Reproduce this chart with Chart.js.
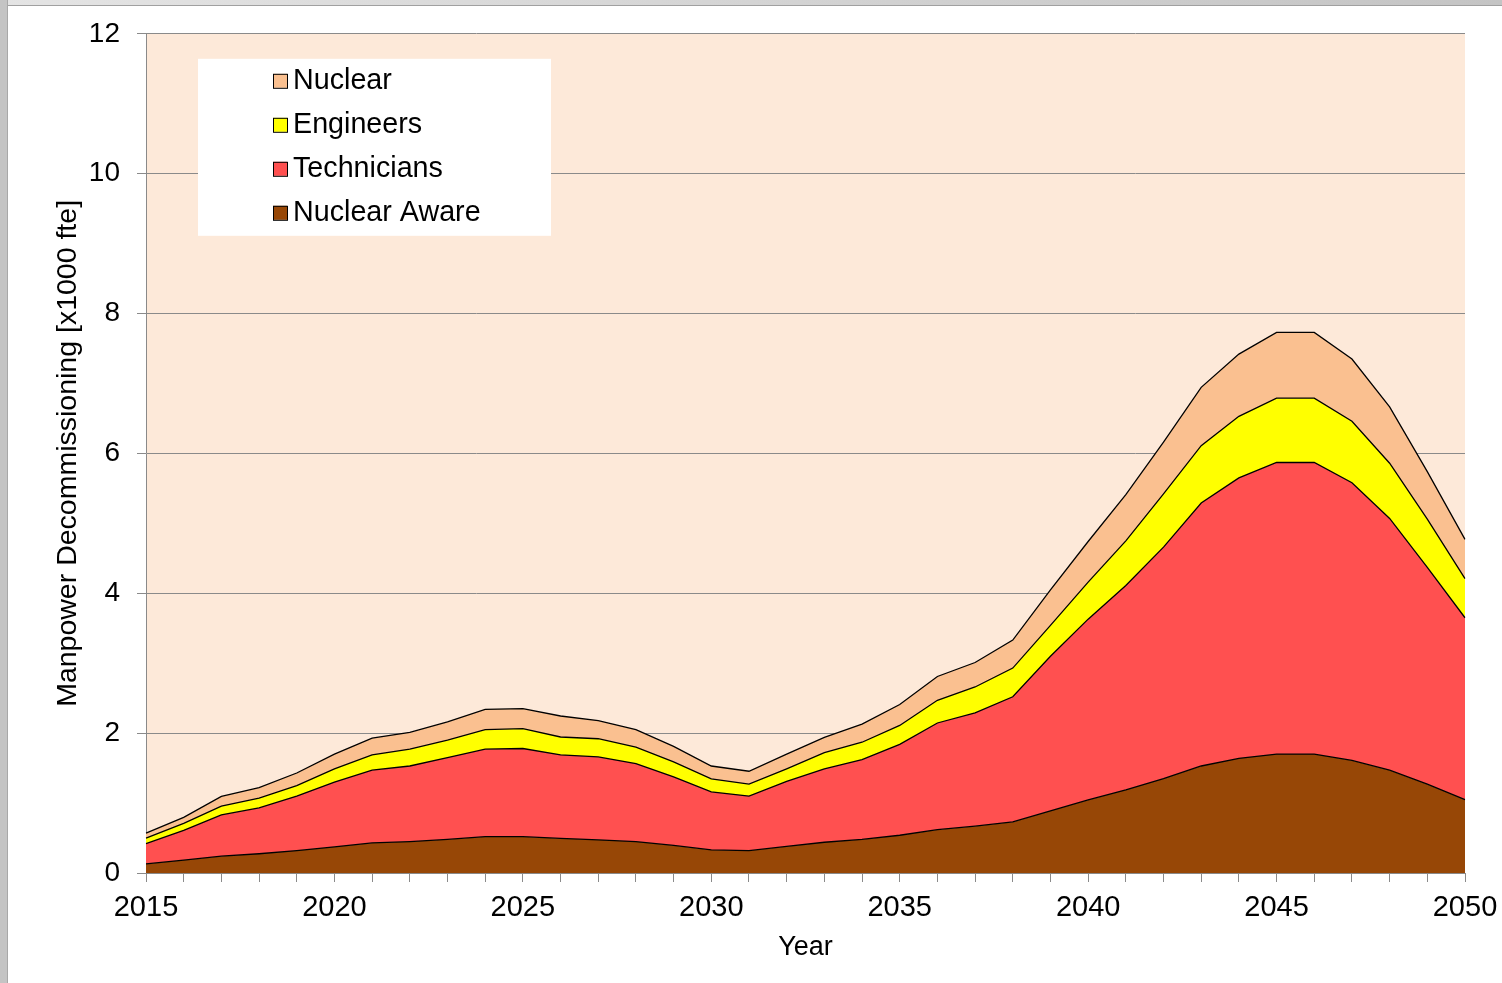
<!DOCTYPE html>
<html>
<head>
<meta charset="utf-8">
<script src="https://cdn.jsdelivr.net/npm/chart.js@4.4.0/dist/chart.umd.min.js"></script>
<style>
  html, body { margin: 0; padding: 0; background: #fff; }
  #wrap { position: relative; width: 1502px; height: 983px; overflow: hidden; }
  #frameTop { position: absolute; left: 0; top: 0; width: 1502px; height: 5px; background: linear-gradient(to right, #e4e4e4, #c4c4c4); border-bottom: 1px solid #a0a0a0; }
  #frameLeft { position: absolute; left: 0; top: 0; width: 7px; height: 983px; background: #c4c4c4; border-right: 1px solid #a8a8a8; }
  canvas { position: absolute; left: 0; top: 0; }
</style>
</head>
<body>
<div id="wrap">
  <canvas id="chartCanvas" width="1502" height="983"></canvas>
  <div id="frameTop"></div>
  <div id="frameLeft"></div>
</div>
<script>
const years = [];
for (let y = 2015; y <= 2050; y++) years.push(String(y));

// values in x1000 fte
const nuclearAware = [0.13, 0.185, 0.24, 0.275, 0.32, 0.375, 0.43, 0.45, 0.48, 0.52, 0.52, 0.495,
                      0.475, 0.45, 0.395, 0.33, 0.32, 0.38, 0.44, 0.48, 0.54, 0.62, 0.67, 0.73,
                      0.89, 1.045, 1.19, 1.35, 1.53, 1.64, 1.70, 1.70, 1.61, 1.47, 1.27, 1.05];
const technicians = [0.29, 0.425, 0.59, 0.655, 0.78, 0.925, 1.04, 1.08, 1.17, 1.25, 1.26, 1.195,
                     1.185, 1.115, 0.98, 0.83, 0.78, 0.93, 1.05, 1.14, 1.30, 1.525, 1.62, 1.79,
                     2.21, 2.585, 2.92, 3.31, 3.76, 4.01, 4.17, 4.17, 3.97, 3.60, 3.10, 2.60];
const engineers = [0.08, 0.10, 0.125, 0.14, 0.15, 0.19, 0.22, 0.24, 0.25, 0.28, 0.285, 0.255,
                   0.26, 0.235, 0.215, 0.185, 0.17, 0.18, 0.23, 0.25, 0.27, 0.325, 0.37, 0.41,
                   0.44, 0.53, 0.64, 0.76, 0.82, 0.88, 0.92, 0.92, 0.88, 0.79, 0.69, 0.56];
const nuclear = [0.07, 0.085, 0.14, 0.15, 0.18, 0.21, 0.24, 0.24, 0.26, 0.29, 0.285, 0.30,
                 0.26, 0.25, 0.22, 0.185, 0.185, 0.21, 0.22, 0.26, 0.30, 0.34, 0.35, 0.40,
                 0.51, 0.58, 0.66, 0.74, 0.835, 0.89, 0.94, 0.94, 0.89, 0.805, 0.68, 0.56];
const yTicks = [0, 2, 4, 6, 8, 10, 12];

const FONT = "'Liberation Sans', Arial, sans-serif";
const GRID = '#8a8a8a';

function areaSet(label, data, color, fill) {
    return {
        label: label,
        data: data,
        backgroundColor: color,
        borderColor: '#000',
        borderWidth: 1.3,
        fill: fill,
        pointRadius: 0,
        tension: 0
    };
}

const plotBackground = {
    id: 'plotBackground',
    beforeDraw(chart) {
        const a = chart.chartArea;
        const ctx = chart.ctx;
        ctx.save();
        ctx.fillStyle = '#FDE9D9';
        ctx.fillRect(a.left, a.top, a.right - a.left, a.bottom - a.top);
        ctx.restore();
    }
};

// legend box drawn inside the plot, top-left, in reverse stacking order
const boxLegend = {
    id: 'boxLegend',
    afterDraw(chart) {
        const ctx = chart.ctx;
        const a = chart.chartArea;
        const x0 = a.left + 52, y0 = a.top + 25;
        ctx.save();
        ctx.fillStyle = '#fff';
        ctx.fillRect(x0, y0, 353, 177);
        ctx.font = '28.7px ' + FONT;
        ctx.textBaseline = 'middle';
        const sets = chart.data.datasets.slice().reverse();
        sets.forEach((ds, i) => {
            const cy = y0 + 22 + i * 44;
            ctx.fillStyle = ds.backgroundColor;
            ctx.fillRect(x0 + 75, cy - 7, 14, 14);
            ctx.strokeStyle = '#000';
            ctx.lineWidth = 1;
            ctx.strokeRect(x0 + 75.5, cy - 6.5, 14, 14);
            ctx.fillStyle = '#000';
            ctx.fillText(ds.label, x0 + 95, cy);
        });
        ctx.restore();
    }
};

new Chart(document.getElementById('chartCanvas'), {
    type: 'line',
    data: {
        labels: years,
        datasets: [
            areaSet('Nuclear Aware', nuclearAware, '#974706', 'origin'),
            areaSet('Technicians', technicians, '#FF5050', '-1'),
            areaSet('Engineers', engineers, '#FFFF00', '-1'),
            areaSet('Nuclear', nuclear, '#FAC090', '-1')
        ]
    },
    options: {
        responsive: false,
        animation: false,
        devicePixelRatio: 1,
        layout: { padding: { top: 32, right: 37, left: 0, bottom: 0 } },
        plugins: {
            legend: { display: false },
            tooltip: { enabled: false }
        },
        scales: {
            x: {
                stacked: true,
                afterFit(scale) {
                    scale.height = 110;
                    scale.paddingLeft = 0;
                    scale.paddingRight = 0;
                },
                grid: { drawOnChartArea: false, drawTicks: true, tickLength: 9, color: GRID },
                border: { color: GRID, width: 1 },
                ticks: {
                    autoSkip: false,
                    maxRotation: 0,
                    padding: 9,
                    color: '#000',
                    font: { family: FONT, size: 29 },
                    callback(value, index) {
                        const y = years[index];
                        return (Number(y) % 5 === 0) ? y : '';
                    }
                },
                title: {
                    display: true,
                    text: 'Year',
                    color: '#000',
                    font: { family: FONT, size: 27 },
                    padding: { top: 0, bottom: 19 }
                }
            },
            y: {
                stacked: true,
                min: 0,
                max: 12,
                afterFit(scale) { scale.width = 146; },
                afterBuildTicks(scale) { scale.ticks = yTicks.map(v => ({ value: v })); },
                grid: { color: GRID, tickLength: 9, lineWidth: 1 },
                border: { color: GRID, width: 1 },
                ticks: {
                    padding: 17,
                    color: '#000',
                    font: { family: FONT, size: 28 }
                },
                title: {
                    display: true,
                    text: 'Manpower Decommissioning [x1000 fte]',
                    color: '#000',
                    font: { family: FONT, size: 28.5 },
                    padding: { top: 51, bottom: 0 }
                }
            }
        }
    },
    plugins: [plotBackground, boxLegend]
});
</script>
</body>
</html>
